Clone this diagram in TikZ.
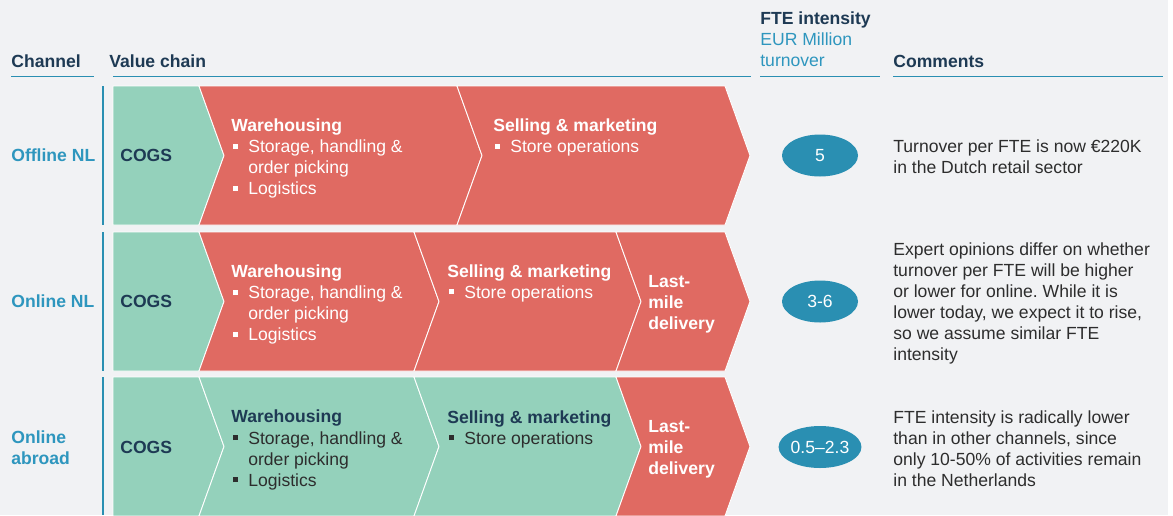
\documentclass[tikz,border=0pt]{standalone}
\usepackage{fontspec}
\setmainfont{Liberation Sans}
\usepackage{xcolor}
\usetikzlibrary{shapes.geometric, positioning}
\definecolor{bgGray}{RGB}{241,242,244}
\definecolor{cogsGreen}{RGB}{148,209,187}
\definecolor{chainRed}{RGB}{224,106,98}
\definecolor{tealBlue}{RGB}{42,143,178}
\definecolor{labelBlue}{RGB}{46,150,190}
\definecolor{navy}{RGB}{30,58,84}
\definecolor{bodyGray}{RGB}{45,45,45}
\frenchspacing
\newcommand{\txt}{\fontsize{10}{12}\selectfont}
\newcommand{\sqbul}{\raisebox{0.22em}{\rule{0.28em}{0.28em}}}
\newcommand{\itm}{\makebox[0.34cm][l]{\hspace{0.04cm}\sqbul}}
\newcommand{\ind}{\hspace*{0.34cm}}
\newcommand{\stageblock}[5]{%
  \filldraw[fill=#1,draw=white,line width=0.5pt]
    (#2,#4) -- (#3,#4) -- (#3+25,#4+69.5) -- (#3,#4+139) -- (#2,#4+139) -- (#2+#5,#4+69.5) -- cycle;}
\tikzset{head/.style={anchor=west,inner sep=0pt,align=left,font=\txt\bfseries,text=navy},
  channel/.style={anchor=west,inner sep=0pt,align=left,font=\txt\bfseries,text=labelBlue},
  stagetext/.style={anchor=west,inner sep=0pt,align=left,font=\txt,text=white},
  greentext/.style={stagetext,text=bodyGray},
  cogs/.style={anchor=west,inner sep=0pt,font=\txt\bfseries,text=navy},
  fte/.style={ellipse,fill=tealBlue,text=white,inner sep=0pt,minimum width=1.52cm,minimum height=0.84cm,font=\txt},
  comment/.style={anchor=west,inner sep=0pt,align=left,font=\txt,text=bodyGray},
  headline/.style={tealBlue,line width=0.7pt},
  rowline/.style={tealBlue,line width=0.6pt}}

\begin{document}
\begin{tikzpicture}[x=0.02cm,y=-0.02cm]
  \useasboundingbox (0,0) rectangle (1173,515);
  \fill[white] (0,0) rectangle (1173,515);
  \fill[bgGray] (0,0) rectangle (1168,515);

  % headers
  \node[head] (hchan) at (11,61) {Channel};
  \node[head] (hchain) at (109,61) {Value chain};
  \node[head] (hfte) at (760,39) {FTE intensity\\ \color{labelBlue}\mdseries EUR Million\\ \color{labelBlue}\mdseries turnover};
  \node[head] (hcom) at (893,61) {Comments};
  \draw[headline] (11,76.5) -- (94,76.5);
  \draw[headline] (113,76.5) -- (751,76.5);
  \draw[headline] (760,76.5) -- (880,76.5);
  \draw[headline] (893,76.5) -- (1163,76.5);

  % row lines
  \draw[rowline] (103,86) -- (103,225);
  \draw[rowline] (103,232) -- (103,371);
  \draw[rowline] (103,377) -- (103,515);

  % offline NL
  \stageblock{cogsGreen}{113}{199}{86}{0}
  \stageblock{chainRed}{199}{457}{86}{25}
  \stageblock{chainRed}{457}{725}{86}{25}
  \node[channel] (ch1) at (11,155.5) {Offline NL};
  \node[cogs] (cogs1) at (120,155.5) {COGS};
  \node[stagetext] (wh1) at (231,158.5) {\textbf{Warehousing}\\ \itm Storage, handling \&\\ \ind order picking\\ \itm Logistics};
  \node[stagetext] (sm1) at (493,137.5) {\textbf{Selling \& marketing}\\ \itm Store operations};
  \node[fte] (fte1) at (820,155.5) {5};
  \node[comment] (note1) at (893,157) {Turnover per FTE is now €220K\\ in the Dutch retail sector};

  % online NL
  \stageblock{cogsGreen}{113}{199}{232}{0}
  \stageblock{chainRed}{199}{414}{232}{25}
  \stageblock{chainRed}{414}{616}{232}{25}
  \stageblock{chainRed}{616}{725}{232}{25}
  \node[channel] (ch2) at (11,301.5) {Online NL};
  \node[cogs] (cogs2) at (120,301.5) {COGS};
  \node[stagetext] (wh2) at (231,304.5) {\textbf{Warehousing}\\ \itm Storage, handling \&\\ \ind order picking\\ \itm Logistics};
  \node[stagetext] (sm2) at (447,283) {\textbf{Selling \& marketing}\\ \itm Store operations};
  \node[stagetext,font=\txt\bfseries] (lm2) at (648,304.5) {Last-\\ mile\\ delivery};
  \node[fte] (fte2) at (820,301.5) {3-6};
  \node[comment] (note2) at (893,303.5) {Expert opinions differ on whether\\ turnover per FTE will be higher\\ or lower for online. While it is\\ lower today, we expect it to rise,\\ so we assume similar FTE\\ intensity};

  % online abroad
  \stageblock{cogsGreen}{113}{199}{377}{0}
  \stageblock{cogsGreen}{199}{414}{377}{25}
  \stageblock{cogsGreen}{414}{616}{377}{25}
  \stageblock{chainRed}{616}{725}{377}{25}
  \node[channel] (ch3) at (11,448) {Online\\ abroad};
  \node[cogs] (cogs3) at (120,447.5) {COGS};
  \node[greentext] (wh3) at (231,450) {\textbf{\color{navy}Warehousing}\\ \itm Storage, handling \&\\ \ind order picking\\ \itm Logistics};
  \node[greentext] (sm3) at (447,429) {\textbf{\color{navy}Selling \& marketing}\\ \itm Store operations};
  \node[stagetext,font=\txt\bfseries] (lm3) at (648,449.5) {Last-\\ mile\\ delivery};
  \node[fte] (fte3) at (820,447) {0.5–2.3};
  \node[comment] (note3) at (893,448.5) {FTE intensity is radically lower\\ than in other channels, since\\ only 10-50\% of activities remain\\ in the Netherlands};
\end{tikzpicture}
\end{document}
